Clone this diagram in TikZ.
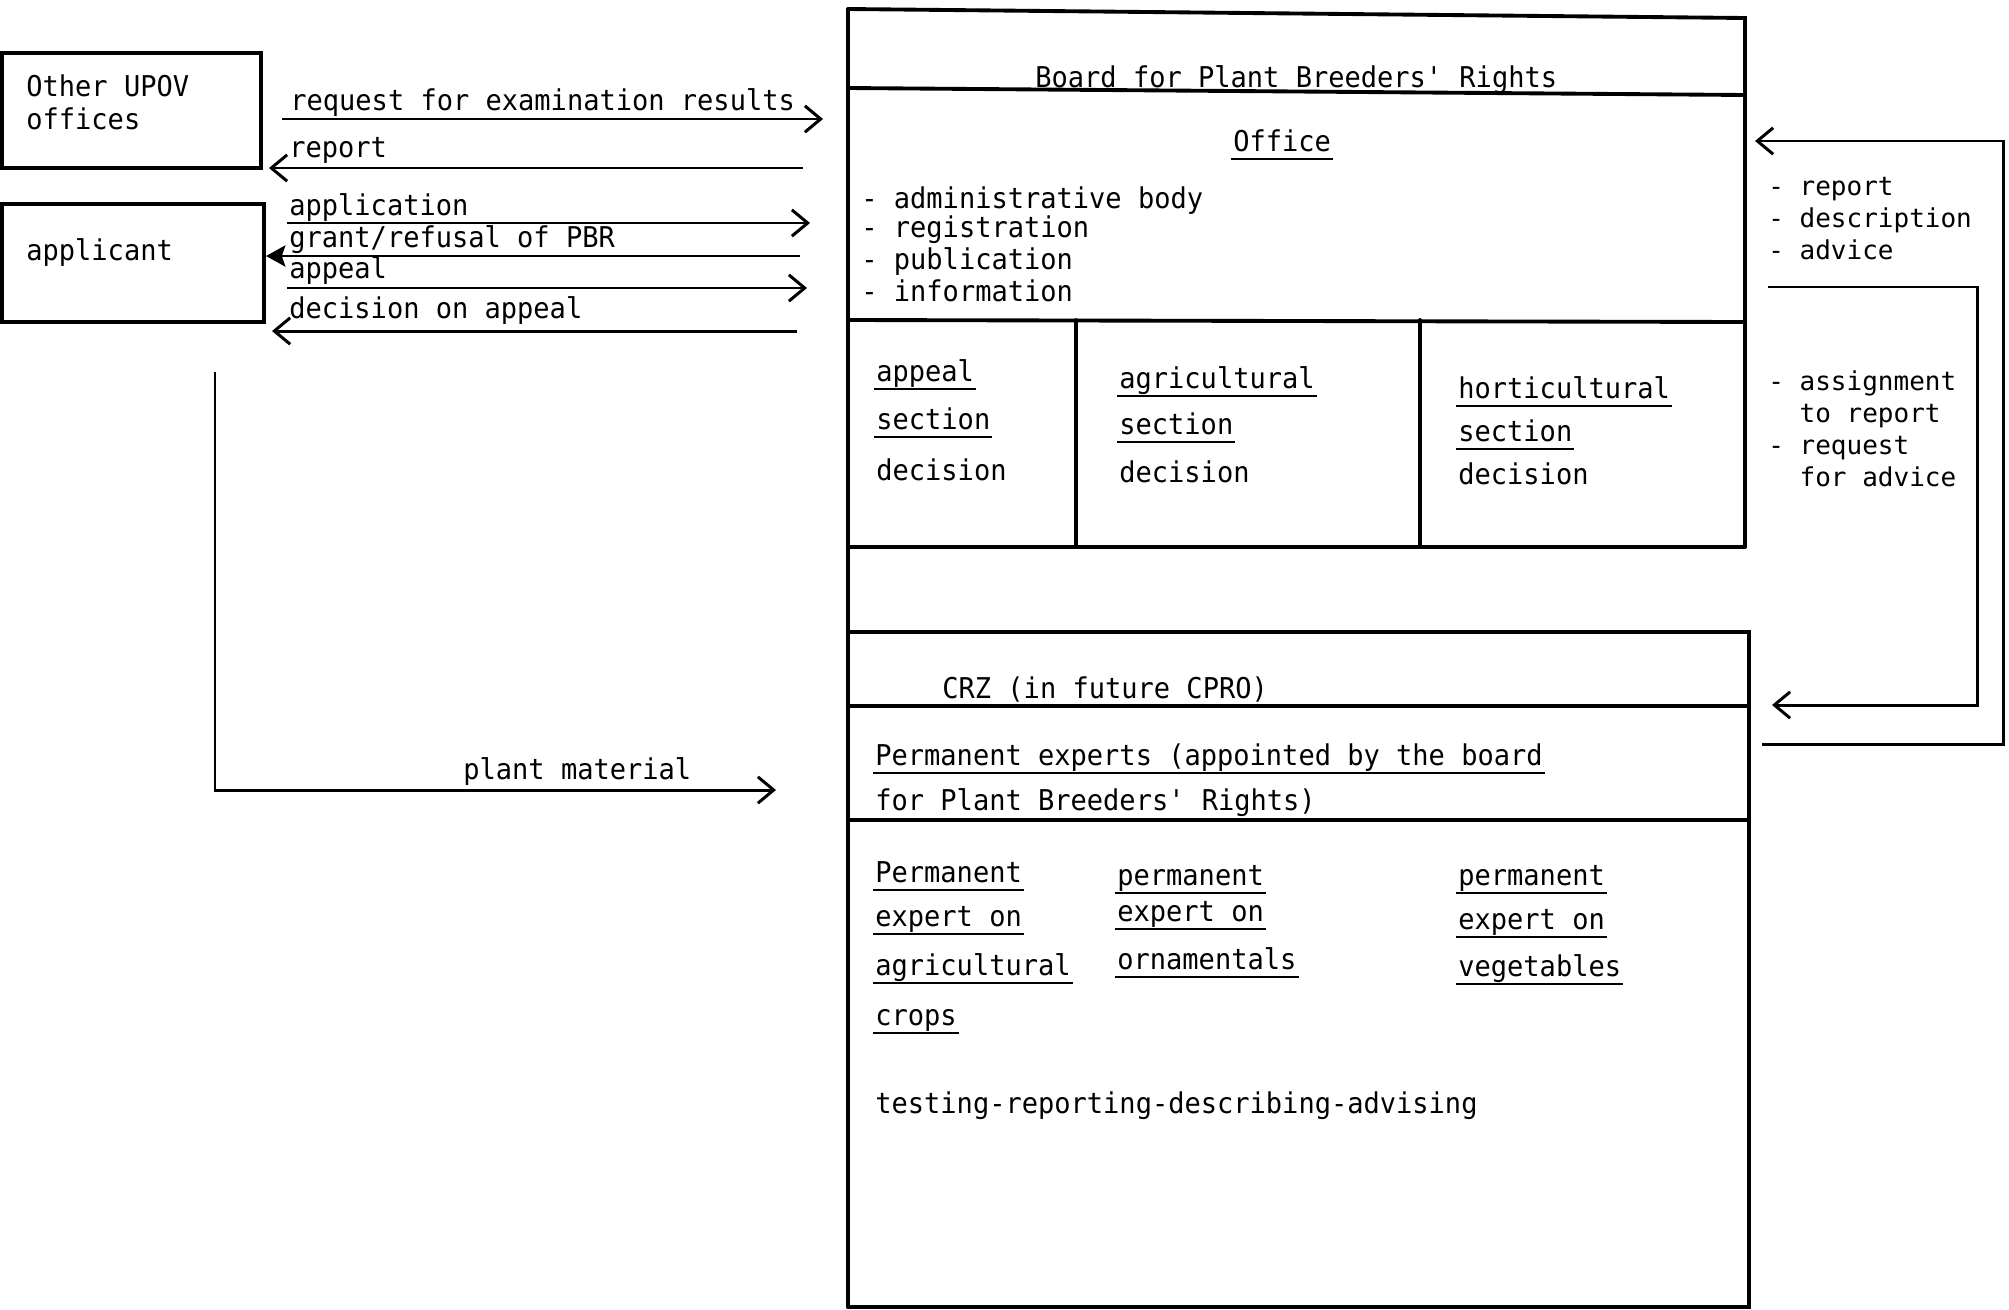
\documentclass[tikz,border=0pt]{standalone}
\usepackage{fontspec}
\setmainfont{DejaVu Sans Mono}[FakeStretch=0.944]
\newfontfamily\sidefont{DejaVu Sans Mono}
\usetikzlibrary{arrows.meta}

\tikzset{
  frame/.style={line width=2.2pt, line cap=round},
  flow/.style={line width=1.7pt, line join=miter,
    -{Straight Barb[length=9pt,width=15pt,line width=1.7pt]}},
  boldflow/.style={line width=1.7pt,
    -{Stealth[length=11pt,width=12pt,inset=2pt]}},
  txt/.style={anchor=base west, inner sep=0pt, font=\fontsize{16.3}{19}\selectfont},
  side/.style={anchor=base west, inner sep=0pt, font=\sidefont\fontsize{14.8}{18}\selectfont},
  uline/.style={line width=1.2pt},
}

\begin{document}
\begin{tikzpicture}[x=0.02cm,y=-0.02cm]
\useasboundingbox (0,0) rectangle (2009,1309);

% ---- outside parties ----
\draw[frame] (2,53) rectangle (261,168);
\node[txt] (upovA) at (26,96) {Other UPOV};
\node[txt] (upovB) at (26,129) {offices};
\draw[frame] (2,204) rectangle (264,322);
\node[txt] (appl) at (26,260) {applicant};

% ---- exchanges with the board ----
\coordinate (reqS) at (282,119);  \coordinate (reqE) at (823,119);
\coordinate (repS) at (803,168);  \coordinate (repE) at (269,168);
\coordinate (apS)  at (287,223);  \coordinate (apE)  at (810,223);
\coordinate (grS)  at (800,256);  \coordinate (grE)  at (266,256);
\coordinate (aplS) at (287,288);  \coordinate (aplE) at (807,288);
\coordinate (decS) at (797,331);  \coordinate (decE) at (272,331);
\draw[flow] (reqS) -- (reqE);
\draw[flow] (repS) -- (repE);
\draw[flow] (apS) -- (apE);
\draw[boldflow] (grS) -- (grE);
\draw[flow] (aplS) -- (aplE);
\draw[flow] (decS) -- (decE);
\node[txt] (lreq) at (290,110) {request for examination results};
\node[txt] (lrep) at (289,157) {report};
\node[txt] (lap)  at (289,215) {application};
\node[txt] (lgr)  at (289,247) {grant/refusal of PBR};
\node[txt] (lapl) at (289,278) {appeal};
\node[txt] (ldec) at (289,318) {decision on appeal};

% ---- plant material ----
\coordinate (pmS) at (215,372);
\coordinate (pmK) at (215,790);
\coordinate (pmE) at (776,790);
\draw[flow] (pmS) -- (pmK) -- (pmE);
\node[txt] (lpm) at (463,779) {plant material};

% ---- Board for Plant Breeders' Rights ----
\draw[frame] (848,9) -- (1745,18) -- (1745,547);
\draw[frame] (848,9) -- (848,1307);
\draw[frame] (848,88) -- (1745,95);
\draw[frame] (848,320) -- (1745,322);
\draw[frame] (848,547) -- (1745,547);
\draw[frame] (1076,320) -- (1076,547);
\draw[frame] (1420,320) -- (1420,547);
\node[txt] (board) at (1035,87) {Board for Plant Breeders\textquotesingle\ Rights};
\node[txt] (office) at (1233,151) {Office};
\node[txt] (oA) at (861,208) {- administrative body};
\node[txt] (oB) at (861,237) {- registration};
\node[txt] (oC) at (861,269) {- publication};
\node[txt] (oD) at (861,301) {- information};

\node[txt] (sAa) at (876,381) {appeal\ };
\node[txt] (sAb) at (876,429) {section};
\node[txt] (sAc) at (876,480) {decision};
\node[txt] (sBa) at (1119,388) {agricultural};
\node[txt] (sBb) at (1119,434) {section};
\node[txt] (sBc) at (1119,482) {decision};
\node[txt] (sCa) at (1458,398) {horticultural};
\node[txt] (sCb) at (1458,441) {section};
\node[txt] (sCc) at (1458,484) {decision};

% ---- CRZ ----
\draw[frame] (848,632) -- (1749,632) -- (1749,1307) -- (848,1307);
\draw[frame] (848,706) -- (1749,706);
\draw[frame] (848,820) -- (1749,820);
\node[txt] (crz) at (942,698) {CRZ (in future CPRO)};
\node[txt] (pexA) at (875,765) {Permanent experts (appointed by the board};
\node[txt] (pexB) at (875,810) {for Plant Breeders\textquotesingle\ Rights)};

\node[txt] (eAa) at (875,882) {Permanent};
\node[txt] (eAb) at (875,926) {expert on};
\node[txt] (eAc) at (875,975) {agricultural};
\node[txt] (eAd) at (875,1025) {crops};
\node[txt] (eBa) at (1117,885) {permanent};
\node[txt] (eBb) at (1117,921) {expert on};
\node[txt] (eBc) at (1117,969) {ornamentals};
\node[txt] (eCa) at (1458,885) {permanent};
\node[txt] (eCb) at (1458,929) {expert on};
\node[txt] (eCc) at (1458,976) {vegetables};
\node[txt] (task) at (875,1113) {testing-reporting-describing-advising};

\foreach \n in {office,sAa,sAb,sBa,sBb,sCa,sCb,pexA,eAa,eAb,eAc,eAd,eBa,eBb,eBc,eCa,eCb,eCc}
  \draw[uline] ([xshift=-1pt,yshift=-4.5pt]\n.base west) -- ([xshift=1pt,yshift=-4.5pt]\n.base east);

% ---- feedback loops ----
\coordinate (outS) at (1762,744);
\coordinate (outA) at (2003,744);
\coordinate (outB) at (2003,141);
\coordinate (outE) at (1755,141);
\draw[flow] (outS) -- (outA) -- (outB) -- (outE);
\coordinate (inS) at (1768,287);
\coordinate (inA) at (1977,287);
\coordinate (inB) at (1977,705);
\coordinate (inE) at (1772,705);
\draw[flow] (inS) -- (inA) -- (inB) -- (inE);

\node[side] (rA) at (1768,195) {- report};
\node[side] (rB) at (1768,227) {- description};
\node[side] (rC) at (1768,259) {- advice};
\node[side] (qA) at (1768,390) {- assignment};
\node[side] (qB) at (1768,422) {\phantom{- }to report};
\node[side] (qC) at (1768,454) {- request};
\node[side] (qD) at (1768,486) {\phantom{- }for advice};
\end{tikzpicture}
\end{document}
